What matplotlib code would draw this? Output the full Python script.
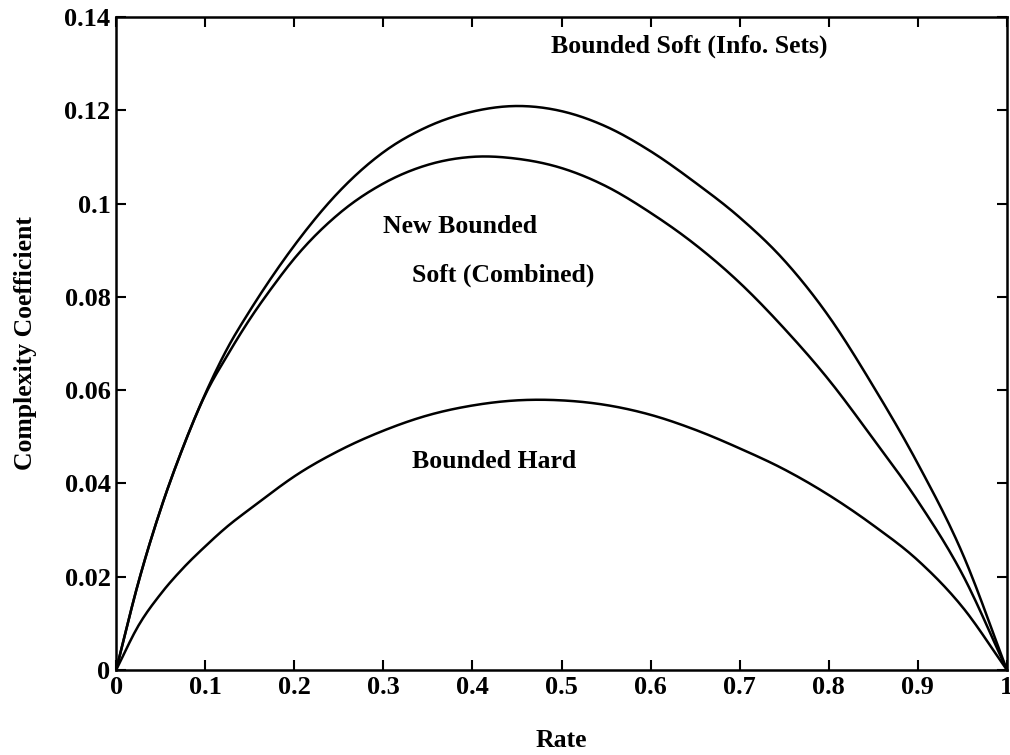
import numpy as np
import matplotlib
matplotlib.use("Agg")
import matplotlib.pyplot as plt

#values
rate = [0, 0.025, 0.05, 0.075, 0.1, 0.125, 0.15, 0.175, 0.2, 0.25, 0.3, 0.35, 0.4, 0.45, 0.5,
        0.55, 0.6, 0.65, 0.7, 0.75, 0.8, 0.85, 0.9, 0.95, 1.0]

soft_info_sets = [0, 0.0188, 0.0345, 0.0477, 0.0592, 0.0690, 0.0770, 0.0843, 0.0910, 0.1025, 0.1110,
                  0.1165, 0.1197, 0.1209, 0.1198, 0.1165, 0.1112, 0.1045, 0.0970, 0.0878, 0.0758,
                  0.0608, 0.0442, 0.0250, 0]

soft_combined = [0, 0.0188, 0.0345, 0.0477, 0.0590, 0.0675, 0.0752, 0.0820, 0.0882, 0.0978, 0.1043,
                 0.1083, 0.1100, 0.1096, 0.1076, 0.1037, 0.0980, 0.0912, 0.0830, 0.0732, 0.0622,
                 0.0495, 0.0362, 0.0205, 0]

bounded_hard = [0, 0.0095, 0.0163, 0.0218, 0.0265, 0.0308, 0.0345, 0.0381, 0.0415, 0.0470, 0.0513,
                0.0546, 0.0567, 0.0578, 0.0578, 0.0568, 0.0547, 0.0515, 0.0475, 0.0430, 0.0375,
                0.0310, 0.0235, 0.0135, 0]

x_ticks = [0, 0.1, 0.2, 0.3, 0.4, 0.5, 0.6, 0.7, 0.8, 0.9, 1.0]
x_labels = ['0', '0.1', '0.2', '0.3', '0.4', '0.5', '0.6', '0.7', '0.8', '0.9', '1']
y_ticks = [0, 0.02, 0.04, 0.06, 0.08, 0.1, 0.12, 0.14]
y_labels = ['0', '0.02', '0.04', '0.06', '0.08', '0.1', '0.12', '0.14']

plt.rcParams['font.family'] = ['Liberation Serif', 'DejaVu Serif']
plt.rcParams['font.weight'] = 'bold'
fs = 18.5

fig = plt.figure(figsize=(10.1, 7.55), dpi=100)
ax = fig.add_axes([0.115, 0.1126, 0.882, 0.865])

#smooth the read points with a piecewise cubic hermite
def smooth(xs, ys, n=400):
    xs = np.array(xs)
    ys = np.array(ys)
    xn = np.linspace(0, 1, n)
    d = np.gradient(ys, xs)
    yn = np.empty_like(xn)
    for i, xv in enumerate(xn):
        k = np.searchsorted(xs, xv) - 1
        k = min(max(k, 0), len(xs) - 2)
        h = xs[k + 1] - xs[k]
        t = (xv - xs[k]) / h
        h00 = 2*t**3 - 3*t**2 + 1
        h10 = t**3 - 2*t**2 + t
        h01 = -2*t**3 + 3*t**2
        h11 = t**3 - t**2
        yn[i] = h00*ys[k] + h10*h*d[k] + h01*ys[k+1] + h11*h*d[k+1]
    return xn, yn

for series in [soft_info_sets, soft_combined, bounded_hard]:
    xs, ys = smooth(rate, series)
    ax.plot(xs, ys, color='black', linewidth=1.8)

ax.set_xlim(0, 1)
ax.set_ylim(0, 0.14)
ax.set_xticks(x_ticks)
ax.set_xticklabels(x_labels)
ax.set_yticks(y_ticks)
ax.set_yticklabels(y_labels)
ax.tick_params(direction='in', length=7, width=1.5, top=True, right=True,
               labelsize=19, pad=4)

for s in ax.spines.values():
    s.set_linewidth(1.8)

ax.set_xlabel('Rate', fontsize=fs, fontweight='bold', labelpad=22)
ax.set_ylabel('Complexity Coefficient', fontsize=fs, fontweight='bold', labelpad=20)

ax.text(0.488, 0.1336, 'Bounded Soft (Info. Sets)', fontsize=fs, fontweight='bold', va='center')
ax.text(0.300, 0.0950, 'New Bounded', fontsize=fs, fontweight='bold', va='center')
ax.text(0.332, 0.0847, 'Soft (Combined)', fontsize=fs, fontweight='bold', va='center')
ax.text(0.332, 0.0446, 'Bounded Hard', fontsize=fs, fontweight='bold', va='center')

fig.savefig('out.png', dpi=100)
